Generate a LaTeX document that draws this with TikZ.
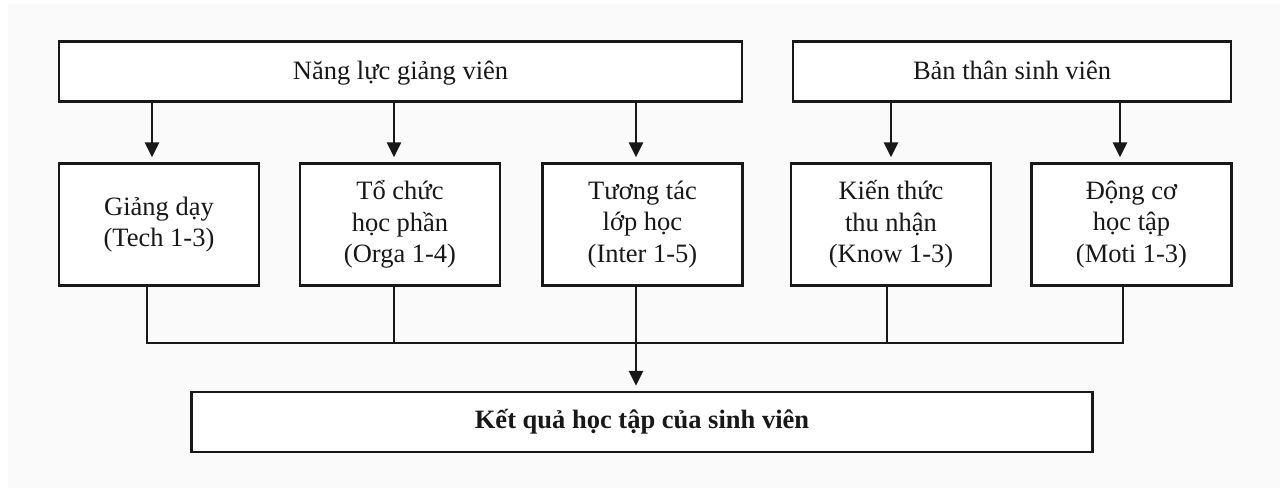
\documentclass[tikz,border=0pt]{standalone}
\usepackage{fontspec}
\setmainfont{Liberation Serif}
\usetikzlibrary{arrows.meta}

\definecolor{ink}{RGB}{24,24,24}
\definecolor{paper}{RGB}{250,250,250}

\tikzset{
  box/.style={draw=ink, line width=2.4pt, fill=white, text=ink,
    inner sep=0pt, align=center,
    font=\fontsize{26.5}{31.5}\selectfont},
  topbox/.style={box, minimum height=60pt, text height=20pt, text depth=3pt},
  itembox/.style={box, minimum width=200pt, minimum height=122pt},
  arrowline/.style={draw=ink, line width=2.6pt,
    -{Triangle[length=15pt,width=14pt]}, shorten >=5pt},
  joinline/.style={draw=ink, line width=2pt},
}

\begin{document}
\begin{tikzpicture}[x=1pt, y=-1pt]
  \useasboundingbox (0,0) rectangle (1286,492);
  \fill[paper] (8,4) rectangle (1280,488);

  % sources
  \node[topbox, minimum width=683pt] (teacher) at (400.5,71.5) {Năng lực giảng viên};
  \node[topbox, minimum width=438pt] (student) at (1012,71.5) {Bản thân sinh viên};

  % factors
  \node[itembox] (tech)  at (159,224.5)    {Giảng dạy\\(Tech 1-3)};
  \node[itembox] (orga)  at (400,224.5)    {Tổ chức\\học phần\\(Orga 1-4)};
  \node[itembox] (inter) at (642.5,224.5)  {Tương tác\\lớp học\\(Inter 1-5)};
  \node[itembox] (know)  at (891,224.5)    {Kiến thức\\thu nhận\\(Know 1-3)};
  \node[itembox] (moti)  at (1131.5,224.5) {Động cơ\\học tập\\(Moti 1-3)};

  % outcome
  \node[box, minimum width=901pt, minimum height=60pt,
        text height=18pt, text depth=5.4pt,
        font=\fontsize{26.5}{31.5}\selectfont\bfseries]
        (result) at (642,422) {Kết quả học tập của sinh viên};

  % arrows from the two sources down to the factors
  \draw[arrowline] ([xshift=-7pt]tech.north |- teacher.south) -- ([xshift=-7pt]tech.north);
  \draw[arrowline] ([xshift=-6pt]orga.north |- teacher.south) -- ([xshift=-6pt]orga.north);
  \draw[arrowline] ([xshift=-6.5pt]inter.north |- teacher.south) -- ([xshift=-6.5pt]inter.north);
  \draw[arrowline] (know.north |- student.south) -- (know.north);
  \draw[arrowline] ([xshift=-11.5pt]moti.north |- student.south) -- ([xshift=-11.5pt]moti.north);

  % collecting bus under the factors
  \coordinate (busL) at ([xshift=-12pt]tech.south |- 0,342.5);
  \coordinate (busR) at ([xshift=-9pt]moti.south |- 0,342.5);
  \draw[joinline] ([xshift=-12pt]tech.south) -- (busL) -- (busR) -- ([xshift=-9pt]moti.south);
  \draw[joinline] ([xshift=-6pt]orga.south) -- ([xshift=-6pt]orga.south |- busL);
  \draw[joinline] ([xshift=-4.5pt]know.south) -- ([xshift=-4.5pt]know.south |- busL);

  % into the outcome
  \draw[arrowline] ([xshift=-6.5pt]inter.south) -- ([xshift=-6.5pt]inter.south |- result.north);
\end{tikzpicture}
\end{document}
